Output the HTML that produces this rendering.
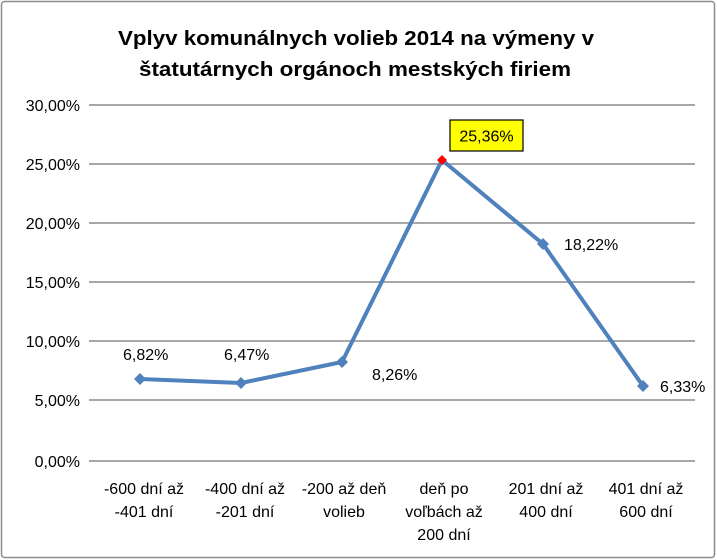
<!DOCTYPE html>
<html><head><meta charset="utf-8"><style>
body{margin:0;background:#fff;}
svg{display:block;font-family:"Liberation Sans",sans-serif;}
</style></head><body>
<svg width="717" height="560" viewBox="0 0 717 560">
<rect x="1.5" y="1.5" width="713" height="556" rx="3" fill="#fff" stroke="#8c8c8c" stroke-width="1.5"/>
<g font-weight="bold" font-size="20" fill="#000" text-anchor="start">
<text x="118" y="45" textLength="476" lengthAdjust="spacingAndGlyphs">Vplyv komunálnych volieb 2014 na výmeny v</text>
<text x="139" y="76" textLength="432" lengthAdjust="spacingAndGlyphs">štatutárnych orgánoch mestských firiem</text>
</g>
<g stroke="#8c8c8c" stroke-width="1.5">
<line x1="89" y1="105" x2="695" y2="105"/>
<line x1="89" y1="164" x2="695" y2="164"/>
<line x1="89" y1="223" x2="695" y2="223"/>
<line x1="89" y1="282" x2="695" y2="282"/>
<line x1="89" y1="341" x2="695" y2="341"/>
<line x1="89" y1="400" x2="695" y2="400"/>
<line x1="89" y1="461" x2="695" y2="461"/>
</g>
<g font-size="16" fill="#000" text-anchor="end">
<text x="80" y="111">30,00%</text>
<text x="80" y="170">25,00%</text>
<text x="80" y="229">20,00%</text>
<text x="80" y="288">15,00%</text>
<text x="80" y="347">10,00%</text>
<text x="80" y="406">5,00%</text>
<text x="80" y="467">0,00%</text>
</g>
<g font-size="16" fill="#000" text-anchor="middle">
<text x="144" y="494">-600 dní až</text><text x="144" y="517">-401 dní</text>
<text x="245" y="494">-400 dní  až</text><text x="245" y="517">-201 dní</text>
<text x="344" y="494">-200 až deň</text><text x="344" y="517">volieb</text>
<text x="444" y="494">deň po</text><text x="444" y="517">voľbách až</text><text x="444" y="540">200 dní</text>
<text x="546" y="494">201 dní až</text><text x="546" y="517">400 dní</text>
<text x="646" y="494">401 dní až</text><text x="646" y="517">600 dní</text>
</g>
<polyline points="140,379 241,383 342,362 442,160 543,244 643,386" fill="none" stroke="#4f81bd" stroke-width="4" stroke-linejoin="round"/>
<g fill="#4f81bd">
<polygon points="140,373 146,379 140,385 134,379"/>
<polygon points="241,377 247,383 241,389 235,383"/>
<polygon points="342,356 348,362 342,368 336,362"/>
<polygon points="543,238 549,244 543,250 537,244"/>
<polygon points="643,380 649,386 643,392 637,386"/>
</g>
<polygon points="442,155 447,160 442,165 437,160" fill="#ff0000"/>
<rect x="450" y="120" width="73" height="31" fill="#ffff00" stroke="#000" stroke-width="1.2"/>
<g font-size="16" fill="#000">
<text x="486.5" y="141.5" text-anchor="middle">25,36%</text>
<text x="123" y="360">6,82%</text>
<text x="224" y="360">6,47%</text>
<text x="372" y="380">8,26%</text>
<text x="564" y="250">18,22%</text>
<text x="660" y="392">6,33%</text>
</g>
</svg>
</body></html>
